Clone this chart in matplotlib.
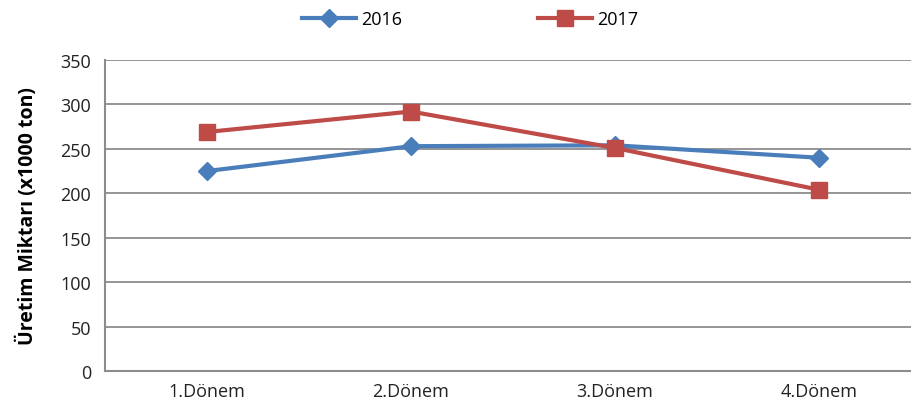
import matplotlib.pyplot as plt

categories = ["1.Dönem", "2.Dönem", "3.Dönem", "4.Dönem"]
values_2016 = [225, 253, 254, 240]
values_2017 = [269, 292, 251, 204]
yticks = [0, 50, 100, 150, 200, 250, 300, 350]

plt.rcParams['font.family'] = ['Open Sans', 'DejaVu Sans']

fig = plt.figure(figsize=(9.11, 4.14), dpi=100)
ax = fig.add_axes([105 / 911, 42 / 414, 816 / 911, 311 / 414])

x = list(range(len(categories)))
ax.plot(x, values_2016, color='#4A7EBB', linewidth=3, marker='D',
        markersize=9, label='2016', zorder=3)
ax.plot(x, values_2017, color='#BE4B48', linewidth=3, marker='s',
        markersize=12, label='2017', zorder=4)

ax.set_xlim(-0.5, 3.5)
ax.set_ylim(0, 350)
ax.set_yticks(yticks)
ax.set_xticks(x)
ax.set_xticklabels(categories)
ax.tick_params(length=0, labelsize=13, colors='#222222')
ax.tick_params(axis='y', pad=10)
ax.tick_params(axis='x', pad=8)
ax.yaxis.grid(True, color='#8C8C8C', linewidth=1.3)
ax.set_axisbelow(True)
for s in ['top', 'right']:
    ax.spines[s].set_visible(False)
for s in ['left', 'bottom']:
    ax.spines[s].set_color('#8C8C8C')
    ax.spines[s].set_linewidth(1.5)

ax.set_ylabel("Üretim Miktarı (x1000 ton)", fontsize=14, fontweight='bold')
ax.yaxis.set_label_coords((38 - 105) / 816, 0.5)

fig.legend(loc='upper center', bbox_to_anchor=(0.516, 1.012), ncol=2,
           frameon=False, fontsize=13, handlelength=3.0, columnspacing=7.5,
           handletextpad=0.3)

fig.savefig("out.png", dpi=100)
